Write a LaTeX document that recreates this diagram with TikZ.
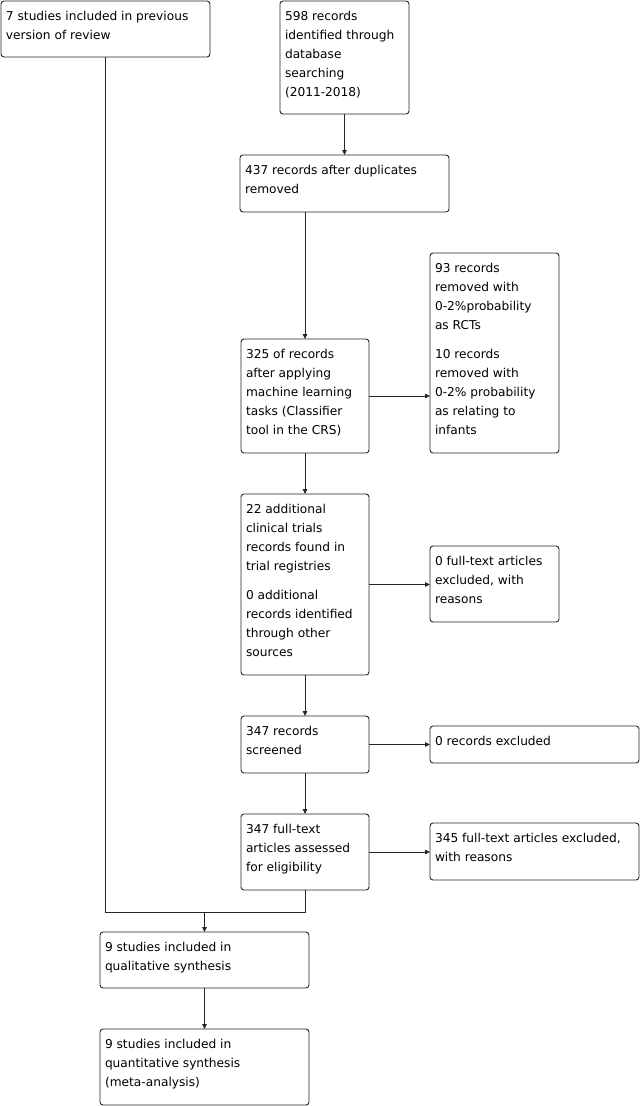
\documentclass[tikz,border=0pt]{standalone}
\usepackage{fontspec}
\setmainfont{DejaVu Sans}
\usetikzlibrary{arrows.meta}
\newcommand{\bxt}[3]{\parbox[c][#2pt][t]{#1pt}{\fontsize{12.2pt}{19pt}\selectfont\raggedright\leftskip=5pt\rule{0pt}{19.5pt}#3}}
\begin{document}
\begin{tikzpicture}[x=1pt,y=1pt,
  box/.style={draw=black!85, rounded corners=3pt, inner sep=0pt, outer sep=0pt, anchor=north west, line width=0.9pt},
  conn/.style={draw=black!85, line width=0.9pt},
  arr/.style={conn, -{Triangle[length=5pt,width=4.5pt]}}]
\useasboundingbox (0,0) rectangle (642,-1106);
\node[box] (A) at (1,-1) {\bxt{209}{56}{7 studies included in previous\\version of review}};
\node[box] (B) at (280,-1) {\bxt{129}{113}{598 records\\identified through\\database\\searching\\(2011-2018)}};
\node[box] (C) at (240,-155) {\bxt{209}{57}{437 records after duplicates\\removed}};
\node[box] (D) at (241,-339) {\bxt{128}{114}{325 of records\\after applying\\machine learning\\tasks (Classifier\\tool in the CRS)}};
\node[box] (E) at (430,-253) {\bxt{129}{200}{93 records\\removed with\\0-2\%probability\\as RCTs\\[10pt]10 records\\removed with\\0-2\% probability\\as relating to\\infants}};
\node[box] (F) at (241,-494) {\bxt{128}{181}{22 additional\\clinical trials\\records found in\\trial registries\\[10pt]0 additional\\records identified\\through other\\sources}};
\node[box] (G) at (430,-546) {\bxt{129}{76}{0 full-text articles\\excluded, with\\reasons}};
\node[box] (H) at (241,-716) {\bxt{128}{57}{347 records\\screened}};
\node[box] (I) at (430,-726) {\bxt{209}{37}{0 records excluded}};
\node[box] (J) at (241,-814) {\bxt{128}{76}{347 full-text\\articles assessed\\for eligibility}};
\node[box] (K) at (430,-823) {\bxt{209}{57}{345 full-text articles excluded,\\with reasons}};
\node[box] (L) at (100,-932) {\bxt{209}{56}{9 studies included in\\qualitative synthesis}};
\node[box] (M) at (100,-1029) {\bxt{209}{76}{9 studies included in\\quantitative synthesis\\(meta-analysis)}};
\coordinate (m) at (L.north |- 0,-912);
\draw[arr] (B.south) -- (C.north);
\draw[arr] (D.north |- C.south) -- (D.north);
\draw[arr] (D.east) -- (D.east -| E.west);
\draw[arr] (D.south) -- (F.north);
\draw[arr] (F.east) -- (F.east -| G.west);
\draw[arr] (F.south) -- (H.north);
\draw[arr] (H.east) -- (H.east -| I.west);
\draw[arr] (H.south) -- (J.north);
\draw[arr] (J.east) -- (J.east -| K.west);
\draw[conn] (A.south) -- (A.south |- m) -- (J.south |- m) -- (J.south);
\draw[arr] (m) -- (L.north);
\draw[arr] (L.south) -- (M.north);
\end{tikzpicture}
\end{document}
